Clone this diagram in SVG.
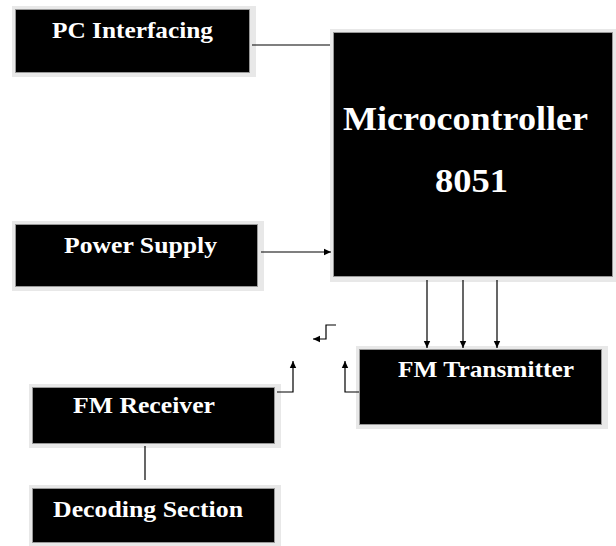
<svg xmlns="http://www.w3.org/2000/svg" width="616" height="546" viewBox="0 0 616 546">
<style>
.halo{fill:#e8e8e8}
.box{fill:#000;stroke:#989898;stroke-width:1}
.lbl{font-family:"Liberation Serif","Times New Roman",serif;font-weight:bold;fill:#fff;font-size:24px}
.big{font-size:34px}
.ln{fill:none;stroke:#000;stroke-width:1.2}
</style>
<defs>
<marker id="ah" markerWidth="8" markerHeight="8" refX="7" refY="4" orient="auto" markerUnits="userSpaceOnUse">
<path d="M0,0.8 L7,4 L0,7.2 Z" fill="#000"/>
</marker>
</defs>
<rect width="616" height="546" fill="#fff"/>
<g id="pc">
<rect class="halo" x="12" y="6" width="244" height="71"/>
<rect class="box" x="15.5" y="9.5" width="234" height="63"/>
<text class="lbl" x="52" y="38" textLength="161" lengthAdjust="spacingAndGlyphs">PC Interfacing</text>
</g>
<g id="micro">
<rect class="halo" x="330" y="29" width="286" height="253"/>
<rect class="box" x="333.5" y="32.5" width="279" height="244"/>
<text class="lbl big" x="343" y="130" textLength="245" lengthAdjust="spacingAndGlyphs">Microcontroller</text>
<text class="lbl big" x="435" y="192" textLength="73" lengthAdjust="spacingAndGlyphs">8051</text>
</g>
<g id="power">
<rect class="halo" x="12" y="221" width="252" height="70"/>
<rect class="box" x="15.5" y="224.5" width="242" height="62"/>
<text class="lbl" x="64" y="253" textLength="153" lengthAdjust="spacingAndGlyphs">Power Supply</text>
</g>
<g id="transmitter">
<rect class="halo" x="356" y="346" width="252" height="83"/>
<rect class="box" x="359.5" y="349.5" width="242" height="75"/>
<text class="lbl" x="398" y="377" textLength="176" lengthAdjust="spacingAndGlyphs">FM Transmitter</text>
</g>
<g id="receiver">
<rect class="halo" x="29" y="384" width="252" height="64"/>
<rect class="box" x="32.5" y="387.5" width="242" height="56"/>
<text class="lbl" x="73" y="413" textLength="142" lengthAdjust="spacingAndGlyphs">FM Receiver</text>
</g>
<g id="decoding">
<rect class="halo" x="29" y="485" width="252" height="61"/>
<rect class="box" x="32.5" y="488.5" width="242" height="54"/>
<text class="lbl" x="53" y="517" textLength="190" lengthAdjust="spacingAndGlyphs">Decoding Section</text>
</g>
<g id="connectors">
<path class="ln" d="M252 45 H330"/>
<path class="ln" d="M261 252 H331" marker-end="url(#ah)"/>
<path class="ln" d="M427 280 V348" marker-end="url(#ah)"/>
<path class="ln" d="M463 280 V348" marker-end="url(#ah)"/>
<path class="ln" d="M497 280 V348" marker-end="url(#ah)"/>
<path class="ln" d="M359 392 H345 V361" marker-end="url(#ah)"/>
<path class="ln" d="M277 392 H293 V361" marker-end="url(#ah)"/>
<path class="ln" d="M336 325 H326 V339 H313" marker-end="url(#ah)"/>
<path class="ln" d="M145 446 V480"/>
</g>
</svg>
